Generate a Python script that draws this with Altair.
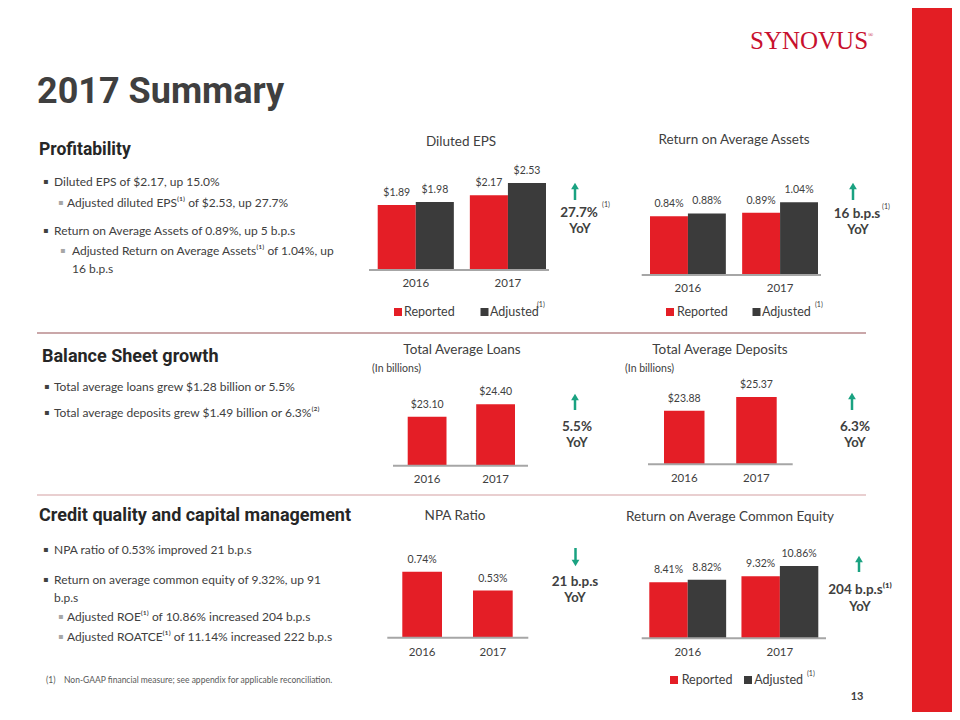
import altair as alt
import pandas as pd

# ---------------- data ----------------
years = ["2016", "2017"]
series = ["Reported", "Adjusted"]
eps_reported = [1.89, 2.17]
eps_adjusted = [1.98, 2.53]
roaa_reported = [0.84, 0.89]
roaa_adjusted = [0.88, 1.04]
avg_loans = [23.10, 24.40]
avg_deposits = [23.88, 25.37]
npa_ratio = [0.74, 0.53]
roe_reported = [8.41, 9.32]
roe_adjusted = [8.82, 10.86]

# ---------------- styles ----------------
RED = "#e41e26"
GREY = "#3b3b3b"
DARK = "#404040"
HEADC = "#262626"
GREEN = "#1aa281"
AXIS = "#a6a6a6"
LOGO = "#c8102e"
BODY = "Lato"
HEAD = "Roboto"

M = 8
W, H = 960 - 2 * M, 720 - 2 * M


def px(x):
    return x - M


def py(y):
    return y - M


layers = []
one = pd.DataFrame({"k": [0]})


def text(s, x, y, size=12, color=DARK, weight="normal", align="left", font=BODY, baseline="middle"):
    layers.append(
        alt.Chart(pd.DataFrame({"t": [s]}))
        .mark_text(align=align, baseline=baseline, font=font, fontSize=size, fontWeight=weight, color=color)
        .encode(x=alt.value(px(x)), y=alt.value(py(y)), text="t:N")
    )


def bullet(x, y, sub=False):
    text("▪", x, y, size=8, color="#a6a6a6" if sub else DARK, font="DejaVu Sans")


def hline(x1, x2, y, color, width):
    layers.append(
        alt.Chart(one)
        .mark_rule(color=color, strokeWidth=width)
        .encode(x=alt.value(px(x1)), x2=alt.value(px(x2)), y=alt.value(py(y)))
    )


def square(x, y, color, size=64):
    layers.append(
        alt.Chart(one)
        .mark_square(color=color, size=size, opacity=1, filled=True)
        .encode(x=alt.value(px(x)), y=alt.value(py(y)))
    )


def arrow(x, y_top, y_bot, up=True):
    if up:
        head_y, s0, s1 = y_top + 4, y_top + 6, y_bot
    else:
        head_y, s0, s1 = y_bot - 4, y_top, y_bot - 6
    layers.append(
        alt.Chart(one)
        .mark_rule(color=GREEN, strokeWidth=2.5)
        .encode(x=alt.value(px(x)), y=alt.value(py(s0)), y2=alt.value(py(s1)))
    )
    layers.append(
        alt.Chart(one)
        .mark_point(shape="triangle-up" if up else "triangle-down", filled=True, color=GREEN, size=60, opacity=1)
        .encode(x=alt.value(px(x)), y=alt.value(py(head_y)))
    )


def band_scale(a, b, gap):
    bw = (b - a - gap) / 2
    return alt.Scale(domain=years, range=[px(a), px(b)], paddingInner=gap / (bw + gap), paddingOuter=0)


def value_scale(domain, y0, y1):
    return alt.Scale(domain=domain, range=[py(y0), py(y1)], nice=False, zero=False)


def grouped(rep, adj, fmt, xa, xb, gap, ydom, ybase, ytop, ax1, ax2, year_y):
    df = pd.DataFrame({"year": years + years,
                       "series": [series[0]] * 2 + [series[1]] * 2,
                       "value": rep + adj})
    df["base"] = ydom[0]
    df["label"] = [fmt(v) for v in df["value"]]
    xs = band_scale(xa, xb, gap)
    ys = value_scale(ydom, ybase, ytop)
    enc = dict(
        x=alt.X("year:N", scale=xs, axis=None),
        xOffset=alt.XOffset("series:N", scale=alt.Scale(domain=series, paddingInner=0, paddingOuter=0)),
        y=alt.Y("value:Q", scale=ys, axis=None),
    )
    bars = alt.Chart(df).mark_bar().encode(
        **enc, y2="base:Q",
        color=alt.Color("series:N", scale=alt.Scale(domain=series, range=[RED, GREY]), legend=None),
    )
    labels = alt.Chart(df).mark_text(dy=-12, fontSize=10.5, font=BODY, color=DARK).encode(**enc, text="label:N")
    yrs = alt.Chart(pd.DataFrame({"year": years})).mark_text(fontSize=11.5, font=BODY, color=DARK).encode(
        x=alt.X("year:N", scale=xs, axis=None), y=alt.value(py(year_y)), text="year:N")
    layers.append(alt.layer(bars, labels, yrs))
    hline(ax1, ax2, ybase, AXIS, 2)


def single(vals, fmt, xa, xb, gap, ydom, ybase, ytop, ax1, ax2, year_y):
    df = pd.DataFrame({"year": years, "value": vals})
    df["base"] = ydom[0]
    df["label"] = [fmt(v) for v in df["value"]]
    xs = band_scale(xa, xb, gap)
    ys = value_scale(ydom, ybase, ytop)
    enc = dict(x=alt.X("year:N", scale=xs, axis=None), y=alt.Y("value:Q", scale=ys, axis=None))
    bars = alt.Chart(df).mark_bar(color=RED).encode(**enc, y2="base:Q")
    labels = alt.Chart(df).mark_text(dy=-12, fontSize=10.5, font=BODY, color=DARK).encode(**enc, text="label:N")
    yrs = alt.Chart(df).mark_text(fontSize=11.5, font=BODY, color=DARK).encode(
        x=alt.X("year:N", scale=xs, axis=None), y=alt.value(py(year_y)), text="year:N")
    layers.append(alt.layer(bars, labels, yrs))
    hline(ax1, ax2, ybase, AXIS, 2)


def dollar(v):
    return f"${v:.2f}"


def pct(v):
    return f"{v:.2f}%"


# ---------------- frame ----------------
layers.append(
    alt.Chart(one).mark_rect(color="#e31e24")
    .encode(x=alt.value(px(912)), x2=alt.value(W + 10), y=alt.value(0), y2=alt.value(H + 10))
)
text("SYNOVUS", 750, 41, size=25, color=LOGO, font="Liberation Serif")
text("®", 868, 35, size=7, color=LOGO, font="Liberation Serif")
text("2017 Summary", 37, 92, size=36, color="#3f3f3f", weight="bold", font=HEAD)

hline(37, 866, 333, "#b98a8c", 1.5)
hline(37, 866, 495, "#e2bfc1", 1.5)

# ---------------- left text ----------------
text("Profitability", 39, 150, size=17.5, color=HEADC, weight="bold", font=HEAD)
bullet(43, 182)
text("Diluted EPS of $2.17, up 15.0%", 54, 182)
bullet(58, 203, sub=True)
text("Adjusted diluted EPS⁽¹⁾ of $2.53, up 27.7%", 67, 203)
bullet(43, 231)
text("Return on Average Assets of 0.89%, up 5 b.p.s", 54, 231)
bullet(60, 251, sub=True)
text("Adjusted Return on Average Assets⁽¹⁾ of 1.04%, up", 72, 251)
text("16 b.p.s", 72, 269)

text("Balance Sheet growth", 42, 357, size=18, color=HEADC, weight="bold", font=HEAD)
bullet(44, 387)
text("Total average loans grew $1.28 billion or 5.5%", 54, 387)
bullet(44, 413)
text("Total average deposits grew $1.49 billion or 6.3%⁽²⁾", 54, 413)

text("Credit quality and capital management", 39, 516, size=18, color=HEADC, weight="bold", font=HEAD)
bullet(43, 550)
text("NPA ratio of 0.53% improved 21 b.p.s", 54, 550)
bullet(43, 580)
text("Return on average common equity of 9.32%, up 91", 54, 580)
text("b.p.s", 54, 598)
bullet(58, 617, sub=True)
text("Adjusted ROE⁽¹⁾ of 10.86% increased 204 b.p.s", 67, 617)
bullet(58, 637, sub=True)
text("Adjusted ROATCE⁽¹⁾ of 11.14% increased 222 b.p.s", 67, 637)

# ---------------- charts ----------------
# Diluted EPS
text("Diluted EPS", 461, 142, size=13.5, align="center")
grouped(eps_reported, eps_adjusted, dollar, 377.7, 546, 16, [0, 3], 270, 166.8, 369, 549, 284)
square(398, 312, RED)
text("Reported", 404, 312, size=12.5)
square(484.5, 312, GREY)
text("Adjusted", 490, 312, size=12.5)
text("(1)", 537, 305, size=7)
arrow(575, 182, 200, up=True)
text("27.7%", 579, 213, size=13.5, weight="bold", align="center")
text("YoY", 580, 229, size=13, weight="bold", align="center")
text("(1)", 606, 205, size=7, align="center")

# Return on Average Assets
text("Return on Average Assets", 734, 140, size=13.5, align="center")
grouped(roaa_reported, roaa_adjusted, pct, 650, 818, 16.3, [0, 1.5], 275, 170, 641.7, 821, 289)
square(670, 312, RED)
text("Reported", 677, 312, size=12.5)
square(756.5, 312, GREY)
text("Adjusted", 762, 312, size=12.5)
text("(1)", 815, 305, size=7)
arrow(853, 182, 200, up=True)
text("16 b.p.s", 857, 214, size=13.5, weight="bold", align="center")
text("YoY", 858, 230, size=13, weight="bold", align="center")
text("(1)", 886, 207, size=7, align="center")

# Total Average Loans
text("Total Average Loans", 462, 350, size=13.5, align="center")
text("(In billions)", 372, 369, size=10.5)
single(avg_loans, dollar, 407.7, 515, 29.7, [18, 28], 465.7, 369.7, 393, 528, 480)
arrow(575, 393, 410, up=True)
text("5.5%", 577, 427, size=13.5, weight="bold", align="center")
text("YoY", 577, 443, size=13, weight="bold", align="center")

# Total Average Deposits
text("Total Average Deposits", 720, 350, size=13.5, align="center")
text("(In billions)", 625, 369, size=10.5)
single(avg_deposits, dollar, 664, 776.7, 31.7, [18, 28], 464.3, 373.1, 648, 792.7, 479)
arrow(852, 392, 410, up=True)
text("6.3%", 855, 427, size=13.5, weight="bold", align="center")
text("YoY", 855, 443, size=13, weight="bold", align="center")

# NPA Ratio
text("NPA Ratio", 455, 516, size=13.5, align="center")
single(npa_ratio, pct, 402.3, 512.7, 31, [0, 1], 637.7, 548.7, 387.3, 528.3, 652.7)
arrow(575.5, 548, 567, up=False)
text("21 b.p.s", 575, 582, size=13.5, weight="bold", align="center")
text("YoY", 575, 598, size=13, weight="bold", align="center")

# Return on Average Common Equity
text("Return on Average Common Equity", 730, 517, size=13.5, align="center")
grouped(roe_reported, roe_adjusted, pct, 649.3, 818.3, 15.3, [0, 15], 638.3, 538.55, 641.7, 826, 653.3)
square(674, 680, RED)
text("Reported", 681.7, 680, size=12.5)
square(748, 680, GREY)
text("Adjusted", 754.3, 680, size=12.5)
text("(1)", 807, 674, size=7)
arrow(859, 555, 572, up=True)
text("204 b.p.s⁽¹⁾", 860, 590, size=13.5, weight="bold", align="center")
text("YoY", 860, 607, size=13, weight="bold", align="center")

# ---------------- footer ----------------
text("(1)", 46, 680, size=8.5, color="#595959")
text("Non-GAAP financial measure; see appendix for applicable reconciliation.", 64, 680, size=8.5, color="#595959")
text("13", 857, 697, size=11, weight="bold", align="center")

chart = (
    alt.layer(*layers)
    .resolve_scale(x="independent", y="independent", xOffset="independent", color="independent")
    .properties(width=W, height=H, autosize=alt.AutoSizeParams(type="none"), padding=0)
    .configure_view(stroke=None)
)

chart.save("out.html", embed_options={"renderer": "svg", "actions": False})
